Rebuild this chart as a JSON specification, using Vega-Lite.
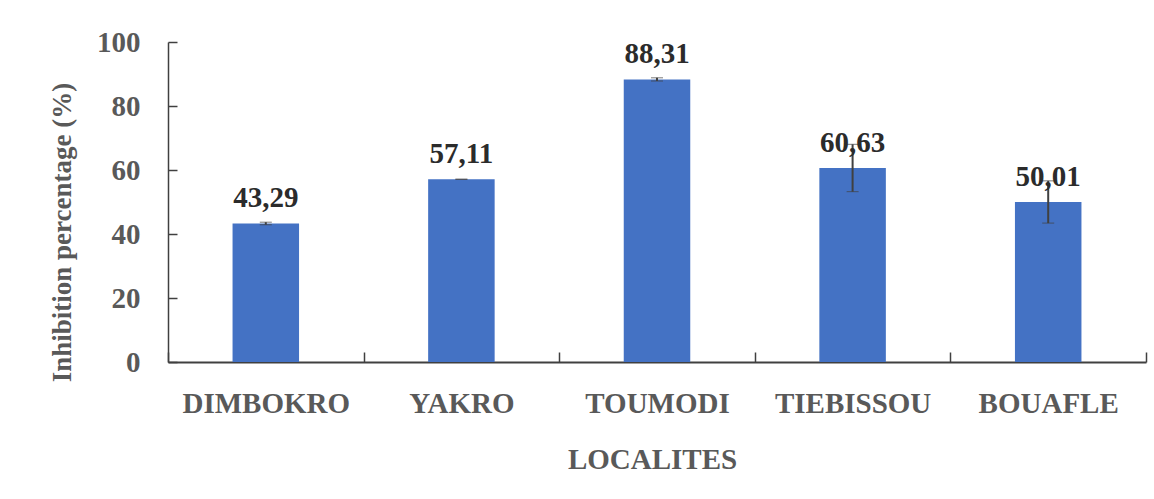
{
  "$schema": "https://vega.github.io/schema/vega-lite/v6.json",
  "width": 978,
  "height": 320,
  "autosize": {"type": "none"},
  "padding": {"left": 168, "top": 42, "right": 8, "bottom": 137},
  "background": "white",
  "config": {
    "view": {"stroke": null},
    "locale": {"number": {"decimal": ",", "thousands": " ", "grouping": [3], "currency": ["", ""]}},
    "font": "Liberation Serif"
  },
  "data": {
    "values": [
      {"localite": "DIMBOKRO", "value": 43.29, "err": 0.4},
      {"localite": "YAKRO", "value": 57.11, "err": 0.0},
      {"localite": "TOUMODI", "value": 88.31, "err": 0.5},
      {"localite": "TIEBISSOU", "value": 60.63, "err": 7.4},
      {"localite": "BOUAFLE", "value": 50.01, "err": 6.6}
    ]
  },
  "encoding": {
    "x": {
      "field": "localite",
      "type": "nominal",
      "sort": null,
      "scale": {"paddingInner": 0, "paddingOuter": 0},
      "axis": {
        "title": "LOCALITES",
        "labelAngle": 0,
        "labelFont": "Liberation Serif",
        "labelFontWeight": "bold",
        "labelFontSize": 29,
        "labelColor": "#595959",
        "labelPadding": 37,
        "tickBand": "extent",
        "tickSize": -10,
        "tickColor": "#404040",
        "tickWidth": 1.5,
        "domainColor": "#404040",
        "domainWidth": 2,
        "titleFont": "Liberation Serif",
        "titleFontWeight": "bold",
        "titleFontSize": 29,
        "titleColor": "#595959",
        "titleBaseline": "middle",
        "titleX": 484,
        "titleY": 97
      }
    }
  },
  "layer": [
    {
      "mark": {"type": "bar", "color": "#4472C4", "width": {"band": 0.34}},
      "encoding": {
        "y": {
          "field": "value",
          "type": "quantitative",
          "title": "Inhibition percentage (%)",
          "scale": {"domain": [0, 100], "nice": false},
          "axis": {
            "values": [0, 20, 40, 60, 80, 100],
            "grid": false,
            "labelFont": "Liberation Serif",
            "labelFontWeight": "bold",
            "labelFontSize": 29,
            "labelColor": "#595959",
            "labelPadding": 37,
            "tickSize": -9,
            "tickColor": "#404040",
            "tickWidth": 1.5,
            "domainColor": "#404040",
            "domainWidth": 1.5,
            "titleFont": "Liberation Serif",
            "titleFontWeight": "bold",
            "titleFontSize": 27,
            "titleColor": "#595959",
            "titleBaseline": "middle",
            "titleX": -106,
            "titleY": 190
          }
        }
      }
    },
    {
      "mark": {"type": "errorbar", "ticks": {"size": 12, "color": "#404040", "strokeWidth": 2}, "rule": {"color": "#404040", "strokeWidth": 2}},
      "encoding": {
        "y": {"field": "value", "type": "quantitative", "title": "Inhibition percentage (%)"},
        "yError": {"field": "err"}
      }
    },
    {
      "mark": {"type": "text", "baseline": "alphabetic", "dy": -16, "font": "Liberation Serif", "fontWeight": "bold", "fontSize": 29, "color": "#2b2b2b"},
      "encoding": {
        "y": {"field": "value", "type": "quantitative", "title": "Inhibition percentage (%)"},
        "text": {"field": "value", "type": "quantitative", "format": ".2f"}
      }
    }
  ]
}
